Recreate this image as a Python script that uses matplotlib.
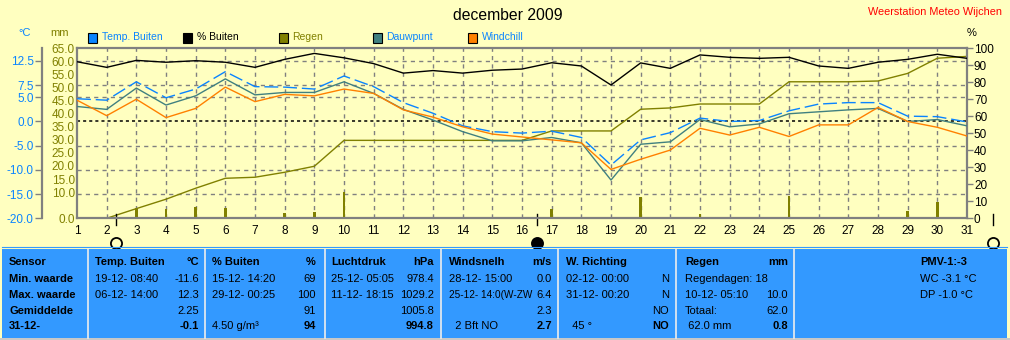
import numpy as np
import matplotlib
matplotlib.use("Agg")
import matplotlib.pyplot as plt
import matplotlib.transforms as mtransforms
from matplotlib.patches import Rectangle

plt.rcParams['font.family'] = ['Liberation Sans', 'DejaVu Sans']

days = list(range(1, 32))
temp_buiten = [4.7, 4.4, 8.2, 4.9, 6.7, 10.3, 7.2, 7.1, 6.7, 9.4, 7.2, 3.9, 1.7, -0.9, -2.1, -2.4,
               -2.0, -3.3, -9.0, -3.8, -2.3, 0.7, 0.0, 0.2, 2.2, 3.6, 3.9, 3.9, 1.1, 1.0, -0.1]
dauwpunt = [3.1, 2.5, 6.9, 3.4, 5.3, 8.8, 5.5, 6.0, 6.0, 8.2, 5.8, 2.5, 0.3, -2.1, -4.0, -4.0,
            -3.3, -4.4, -12.1, -4.7, -4.2, 0.4, -1.1, -0.5, 1.6, 2.0, 2.4, 2.7, 0.0, 0.4, -0.9]
windchill = [4.4, 1.2, 4.6, 0.8, 2.7, 7.1, 4.1, 5.6, 5.3, 6.7, 5.8, 2.4, 0.9, -1.1, -2.6, -3.2,
             -3.8, -4.4, -9.9, -7.8, -5.9, -1.4, -2.8, -1.2, -3.1, -0.7, -0.7, 2.9, 0.0, -1.2, -3.0]
vocht = [92.1, 88.8, 92.9, 91.8, 92.7, 91.8, 88.8, 93.5, 97.0, 94.4, 91.0, 85.4, 86.9, 85.4, 87.1, 87.8,
         91.5, 89.6, 78.4, 91.4, 88.2, 96.1, 94.7, 94.1, 94.7, 89.6, 88.2, 91.8, 93.5, 96.5, 94.1]
regen_cum = [0, 0, 3.7, 7.3, 11.5, 15.3, 15.7, 17.6, 19.9, 29.8, 29.8, 29.8, 29.8, 29.8, 29.8, 29.8,
             33.4, 33.4, 33.4, 41.7, 42.2, 43.7, 43.7, 43.7, 52.2, 52.2, 52.2, 52.5, 55.4, 61.2, 61.9]
regen_dag = [0, 0, 3.8, 3.4, 4.2, 3.8, 0, 2.1, 2.5, 10.2, 0, 0, 0, 0, 0, 0,
             3.4, 0, 0, 8.0, 0, 1.5, 0, 0, 8.4, 0, 0, 0, 2.9, 6.3, 0.8]
maan_dag = [2.31, 16.5, 31.87]
maan_nieuw = [False, True, False]

mm_ticks = [0, 10, 15, 20, 25, 30, 35, 40, 45, 50, 55, 60, 65]
temp_ticks = [-20, -15, -10, -5, 0, 5, 7.5, 12.5]
pct_ticks = list(range(0, 101, 10))

legend_names = ["Temp. Buiten", "% Buiten", "Regen", "Dauwpunt", "Windchill"]

sensor_rows = ["Sensor", "Min. waarde", "Max. waarde", "Gemiddelde", "31-12-"]
panel_titles = ["Temp. Buiten", "% Buiten", "Luchtdruk", "Windsnelh", "W. Richting", "Regen"]
panel_units = ["°C", "%", "hPa", "m/s", "", "mm"]
panel_left = [["19-12- 08:40", "06-12- 14:00", "", ""],
              ["15-12- 14:20", "29-12- 00:25", "", "4.50 g/m³"],
              ["25-12- 05:05", "11-12- 18:15", "", ""],
              ["28-12- 15:00", "25-12- 14:0(W-ZW", "", "  2 Bft NO"],
              ["02-12- 00:00", "31-12- 00:20", "", "  45 °"],
              ["Regendagen: 18", "10-12- 05:10", "Totaal:", " 62.0 mm"]]
panel_right = [["-11.6", "12.3", "2.25", "-0.1"],
               ["69", "100", "91", "94"],
               ["978.4", "1029.2", "1005.8", "994.8"],
               ["0.0", "6.4", "2.3", "2.7"],
               ["N", "N", "NO", "NO"],
               ["", "10.0", "62.0", "0.8"]]
pmv_lines = ["PMV-1:-3", "WC -3.1 °C", "DP -1.0 °C"]

# --- styling ---
W, H = 1010, 340
BG = "#FFFFC0"
BLUE = "#0A84FF"
TEAL = "#408080"
ORANGE = "#FF8000"
OLIVE = "#808000"
GRID = "#808080"
PANEL = "#3399FF"

fig = plt.figure(figsize=(W / 100, H / 100), dpi=100, facecolor=BG)


def fr(x0, y0, x1, y1):  # pixel box (top-left origin) -> figure rect
    return [x0 / W, 1 - y1 / H, (x1 - x0) / W, (y1 - y0) / H]


def ftxt(x, y, s, **kw):
    fig.text(x / W, 1 - y / H, s, **kw)


ax = fig.add_axes(fr(77, 48.3, 967, 218.3))
ax.set_facecolor(BG)
ax.set_xlim(1, 31)
ax.set_ylim(0, 65)
axT = ax.twinx()
axT.set_ylim(-20, 15.12)
axH = ax.twinx()
axH.set_ylim(0, 100)

for s in ax.spines.values():
    s.set_color(GRID); s.set_linewidth(1.6)
for s in axH.spines.values():
    s.set_visible(False)
for k, s in axT.spines.items():
    s.set_visible(k == "left")
axT.yaxis.tick_left()
axT.spines["left"].set_position(("axes", -35 / 890))
axT.spines["left"].set_color(GRID); axT.spines["left"].set_linewidth(1.6)

ax.set_xticks(days)
ax.set_xticklabels([str(d) for d in days])
ax.tick_params(axis="x", length=0, pad=5, labelsize=8.5)
ax.set_yticks(mm_ticks)
ax.set_yticklabels([f"{v:.1f}" for v in mm_ticks])
ax.tick_params(axis="y", length=0, pad=1.5, labelsize=8.5, labelcolor=OLIVE)
axT.set_yticks(temp_ticks)
axT.set_yticklabels([f"{v:.1f}" for v in temp_ticks])
axT.tick_params(axis="y", length=5, width=1, color=GRID, pad=1, labelsize=8.5, labelcolor=BLUE)
axH.set_yticks(pct_ticks)
axH.set_yticklabels([str(v) for v in pct_ticks])
axH.tick_params(axis="y", length=4, width=1, color=GRID, pad=1, labelsize=8.5, labelcolor="black")

# grid
for d in days[1:-1]:
    ax.axvline(d, color=GRID, lw=1, ls=(0, (3, 3)), zorder=0.5)
tr = mtransforms.blended_transform_factory(ax.transAxes, axT.transData)
for t in temp_ticks[1:]:
    if t == 0:
        ax.plot([0, 1], [0, 0], transform=tr, color="black", lw=1.1, ls=(0, (2, 2)), zorder=0.6)
    else:
        ax.plot([0, 1], [t, t], transform=tr, color=GRID, lw=1, ls=(0, (3, 3)), zorder=0.5)

# series
ax.bar(days, regen_dag, width=0.09, color=OLIVE, zorder=2)
ax.plot(days, regen_cum, color=OLIVE, lw=1, zorder=2)
axT.plot(days, temp_buiten, color=BLUE, lw=1, ls=(0, (10, 3.5)))
axT.plot(days, dauwpunt, color=TEAL, lw=1)
axT.plot(days, windchill, color=ORANGE, lw=1)
axH.plot(days, vocht, color="black", lw=1)

# moon phases below the axis
mt = mtransforms.blended_transform_factory(ax.transData, ax.transAxes)
for d, nieuw in zip(maan_dag, maan_nieuw):
    ax.plot([d, d], [0.025, -0.04], transform=mt, color="black", lw=1, clip_on=False)
    ax.plot([d], [-0.148], transform=mt, marker="o", ms=8, mew=1.3, mec="black",
            mfc="black" if nieuw else "none", clip_on=False)

# titles, units and legend
ftxt(508, 15, "december 2009", ha="center", va="center", fontsize=11.3)
ftxt(1002, 12, "Weerstation Meteo Wijchen", ha="right", va="center", fontsize=7.8, color="red")
ftxt(25, 33, "°C", ha="center", va="center", fontsize=8, color=BLUE)
ftxt(60, 33, "mm", ha="center", va="center", fontsize=8, color=OLIVE)
ftxt(972, 33, "%", ha="center", va="center", fontsize=8, color="black")

leg_x = [87.5, 183, 278.5, 372.5, 468]
leg_fc = [BLUE, "black", OLIVE, TEAL, ORANGE]
leg_tc = [BLUE, "black", OLIVE, BLUE, BLUE]
for x, name, fc, tc in zip(leg_x, legend_names, leg_fc, leg_tc):
    fig.patches.append(Rectangle((x / W, 1 - 42.5 / H), 9 / W, 9 / H, transform=fig.transFigure,
                                 facecolor=fc, edgecolor="black", lw=0.8))
    ftxt(x + 14, 37.5, name, ha="left", va="center", fontsize=7.5, color=tc)

# summary panel
fig.patches.append(Rectangle((2 / W, 1 - 338 / H), 1005 / W, 89 / H, transform=fig.transFigure,
                             facecolor=PANEL, edgecolor="none"))
fig.patches.append(Rectangle((0, 0), 1, 2 / H, transform=fig.transFigure,
                             facecolor="#C8C8C8", edgecolor="none"))
fig.lines.append(plt.Line2D([2 / W, 1007 / W], [1 - 246.5 / H] * 2, transform=fig.transFigure,
                            color=PANEL, lw=0.8))
for x in [88, 205, 325, 441, 558, 676, 794]:
    fig.lines.append(plt.Line2D([x / W, x / W], [1 - 249 / H, 1 - 338 / H], transform=fig.transFigure,
                                color="#EEEEEE", lw=1.2))

row_y = [262.3, 279, 295, 310.7, 326]
for y, s in zip(row_y, sensor_rows):
    ftxt(9, y, s, ha="left", va="center", fontsize=8, fontweight="bold")

cols_left = [95, 212, 331, 449, 566, 685]
cols_right = [199, 316, 434, 552, 669, 788]
for i in range(len(panel_titles)):
    xl, xr = cols_left[i], cols_right[i]
    ftxt(xl, row_y[0], panel_titles[i], ha="left", va="center", fontsize=8, fontweight="bold")
    ftxt(xr, row_y[0], panel_units[i], ha="right", va="center", fontsize=8, fontweight="bold")
    for j in range(4):
        last = j == 3
        txt = panel_left[i][j]
        # the long wind-direction entry nearly runs into its value in the original
        ftxt(xl, row_y[j + 1], txt, ha="left", va="center", fontsize=7.2 if len(txt) > 14 else 8)
        ftxt(xr, row_y[j + 1], panel_right[i][j], ha="right", va="center", fontsize=8,
             fontweight="bold" if last else "normal")

for j, s in enumerate(pmv_lines):
    ftxt(920, row_y[j], s, ha="left", va="center", fontsize=8, fontweight="bold" if j == 0 else "normal")

fig.savefig("out.png", dpi=100, facecolor=BG)
